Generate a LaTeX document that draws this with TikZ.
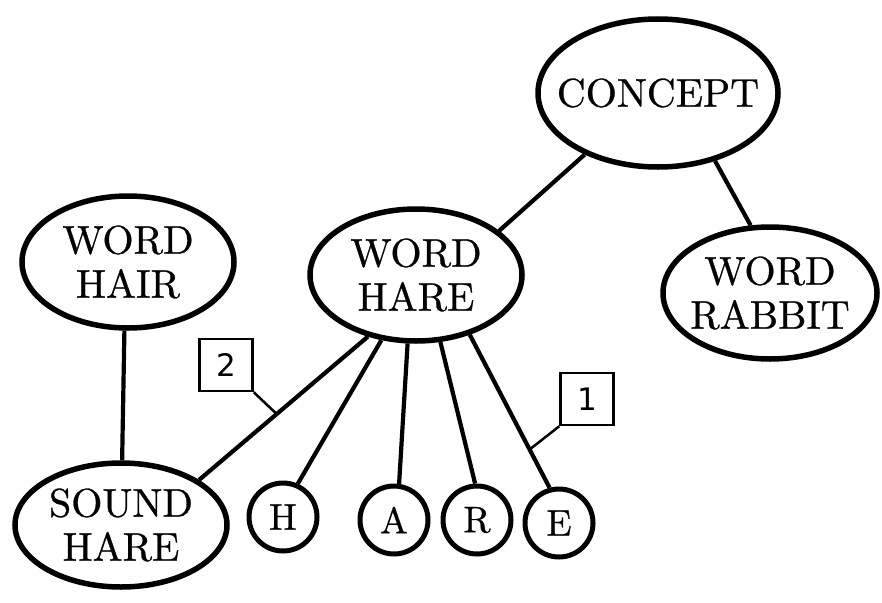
\documentclass[tikz,border=0pt]{standalone}
\usepackage{fontspec}
\newfontfamily\labelfont{DejaVu Sans}
\newfontfamily\nodefont{lmroman10-regular.otf}[FakeBold=0.7]
\usetikzlibrary{shapes.geometric}

\tikzset{
  wordnode/.style={ellipse, draw, line width=5.5pt, inner sep=0pt,
    label={[align=center, inner sep=0pt,
      font=\nodefont\fontsize{40}{44}\selectfont]center:#1}},
  letternode/.style={circle, draw, line width=5pt, inner sep=0pt,
    minimum size=68pt, font=\nodefont\fontsize{37}{40}\selectfont},
  link/.style={line width=4.2pt},
  tagbox/.style={draw, line width=2.5pt, inner sep=0pt,
    minimum width=53pt, minimum height=52pt,
    font=\labelfont\fontsize{31}{34}\selectfont},
  leader/.style={line width=2.5pt}
}

\begin{document}
\begin{tikzpicture}[x=1pt, y=-1pt]
  % page frame
  \fill[white] (0,0) rectangle (882,602);
  \useasboundingbox (0,0) rectangle (882,602);

  % concept and word nodes (text set as a centred label so the outline keeps its size)
  \node[wordnode={CONCEPT}, minimum width=240pt, minimum height=148pt] (concept) at (658,93) {};
  \node[wordnode={WORD\\HARE}, minimum width=212pt, minimum height=132pt] (whare) at (416,275) {};
  \node[wordnode={WORD\\HAIR}, minimum width=212pt, minimum height=132pt] (whair) at (128,262) {};
  \node[wordnode={WORD\\RABBIT}, minimum width=214pt, minimum height=132pt] (rabbit) at (770,293) {};
  \node[wordnode={SOUND\\HARE}, minimum width=212pt, minimum height=124pt] (sound) at (121,525) {};

  % letter nodes
  \node[letternode] (h) at (283,517) {H};
  \node[letternode] (a) at (394,520) {A};
  \node[letternode] (r) at (477,520) {R};
  \node[letternode] (e) at (559,523) {E};

  % connectors
  \draw[link] (concept.220) -- (whare.28);
  \draw[link] (concept.310) -- (rabbit.106);
  \draw[link] (whair.267) -- (sound.89);
  \draw[link] (whare.232) -- coordinate[pos=0.54] (onsound) (sound.30);
  \draw[link] (whare.242) -- (h.66);
  \draw[link] (whare.263) -- (a.82);
  \draw[link] (whare.290) -- (r.93);
  \draw[link] (whare.312) -- coordinate[pos=0.75] (one) (e.105);

  % numbered tags
  \node[tagbox] (tag2) at (226,365) {2};
  \node[tagbox] (tag1) at (587,399) {1};
  \draw[leader] (tag2.south east) -- (onsound);
  \draw[leader] (tag1.south west) -- (one);
\end{tikzpicture}
\end{document}
